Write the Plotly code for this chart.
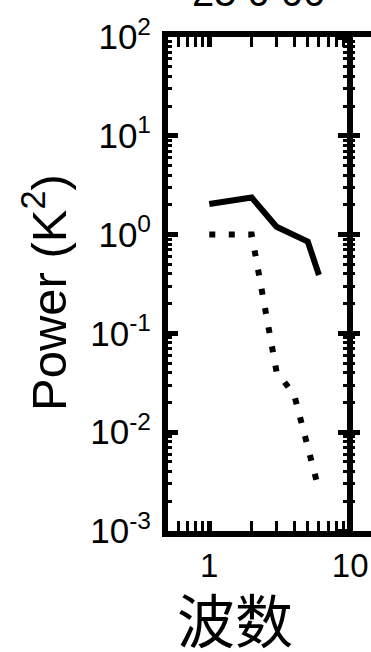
import plotly.graph_objects as go

# Power spectra by zonal wavenumber
wavenumber = [1, 2, 3, 4, 5, 6]
power_solid = [2.04, 2.37, 1.2, 1.0, 0.85, 0.39]
power_dotted = [1.0, 1.0, 0.041, 0.024, 0.0071, 0.0026]

x_tick_vals = [1, 10]
x_tick_text = ["1", "10"]
y_tick_vals = [1e-3, 1e-2, 1e-1, 1, 10, 100]
y_tick_text = ["10<sup>-3</sup>", "10<sup>-2</sup>", "10<sup>-1</sup>",
               "10<sup>0</sup>", "10<sup>1</sup>", "10<sup>2</sup>"]
title_text = "25 0 00"
x_title = "波数"
y_title = "Power (K<sup>2</sup>)"

# log-axis minor ticks at 2..9 of each decade
x_minor = [d * 10.0 ** e for e in range(-1, 2) for d in range(2, 10)]
y_minor = [d * 10.0 ** e for e in range(-3, 2) for d in range(2, 10)]

W, H = 371, 652
ML, MR, MT, MB = 168, 0, 37, 121
PW, PH = W - ML - MR, H - MT - MB

X_RANGE = [-0.293, 1.1476]
Y_RANGE = [-3, 2]
FONT = "Liberation Sans, Arial, sans-serif"
AX_LW = 6


def px_x(px):
    return (px - ML) / PW


def px_y(py):
    return 1 - (py - MT) / PH


fig = go.Figure()
fig.add_trace(go.Scatter(x=wavenumber, y=power_solid, mode="lines",
                         line=dict(color="black", width=6)))
fig.add_trace(go.Scatter(x=wavenumber, y=power_dotted, mode="lines",
                         line=dict(color="black", width=6, dash="6px,13.5px")))

# position of x = 10 within the plot width
pos10 = (1 - X_RANGE[0]) / (X_RANGE[1] - X_RANGE[0])

common_y = dict(type="log", range=Y_RANGE, showgrid=False, zeroline=False)

fig.update_layout(
    width=W, height=H,
    margin=dict(l=ML, r=MR, t=MT, b=MB),
    plot_bgcolor="white", paper_bgcolor="white",
    showlegend=False,
    font=dict(family=FONT, color="black"),
    xaxis=dict(
        type="log", range=X_RANGE, showgrid=False, zeroline=False,
        showline=True, linecolor="black", linewidth=AX_LW, mirror="allticks",
        ticks="inside", ticklen=10, tickwidth=5, tickcolor="black",
        tickvals=x_tick_vals, ticktext=x_tick_text,
        tickfont=dict(size=33, family=FONT), ticklabelstandoff=0,
        minor=dict(ticks="inside", ticklen=4, tickwidth=3, tickcolor="black",
                   tickvals=x_minor, showgrid=False),
    ),
    yaxis=dict(
        **common_y,
        showline=True, linecolor="black", linewidth=AX_LW,
        ticks="inside", ticklen=10, tickwidth=5, tickcolor="black",
        tickvals=y_tick_vals, ticktext=y_tick_text,
        tickfont=dict(size=35, family=FONT), ticklabelstandoff=4,
        minor=dict(ticks="inside", ticklen=4, tickwidth=3, tickcolor="black",
                   tickvals=y_minor, showgrid=False),
    ),
    # vertical axis at wavenumber 10, ticks on both sides
    yaxis2=dict(
        **common_y, overlaying="y", anchor="free", position=pos10,
        showline=True, linecolor="black", linewidth=AX_LW,
        ticks="outside", ticklen=9, tickwidth=5, tickcolor="black",
        tickvals=y_tick_vals, showticklabels=False,
        minor=dict(ticks="outside", ticklen=4, tickwidth=3, tickcolor="black",
                   tickvals=y_minor, showgrid=False),
    ),
    yaxis3=dict(
        **common_y, overlaying="y", anchor="free", position=pos10,
        showline=False,
        ticks="inside", ticklen=9, tickwidth=5, tickcolor="black",
        tickvals=y_tick_vals, showticklabels=False,
        minor=dict(ticks="inside", ticklen=4, tickwidth=3, tickcolor="black",
                   tickvals=y_minor, showgrid=False),
    ),
)

fig.add_trace(go.Scatter(x=[], y=[], yaxis="y2", showlegend=False))
fig.add_trace(go.Scatter(x=[], y=[], yaxis="y3", showlegend=False))

# axis titles
fig.add_annotation(text=x_title, xref="paper", yref="paper",
                   x=px_x(235), y=px_y(618), xanchor="center", yanchor="middle",
                   showarrow=False,
                   font=dict(size=58, family="Noto Sans CJK SC"))
fig.add_annotation(text=y_title, xref="paper", yref="paper",
                   x=px_x(45), y=px_y(292), xanchor="center", yanchor="middle",
                   textangle=-90, showarrow=False,
                   font=dict(size=49, family=FONT))

# plot title, running off the top edge
fig.add_annotation(text=title_text, xref="paper", yref="paper",
                   x=px_x(258), y=px_y(16), xanchor="center", yanchor="bottom",
                   showarrow=False, font=dict(size=40, family=FONT))

fig.write_html("out.html")
